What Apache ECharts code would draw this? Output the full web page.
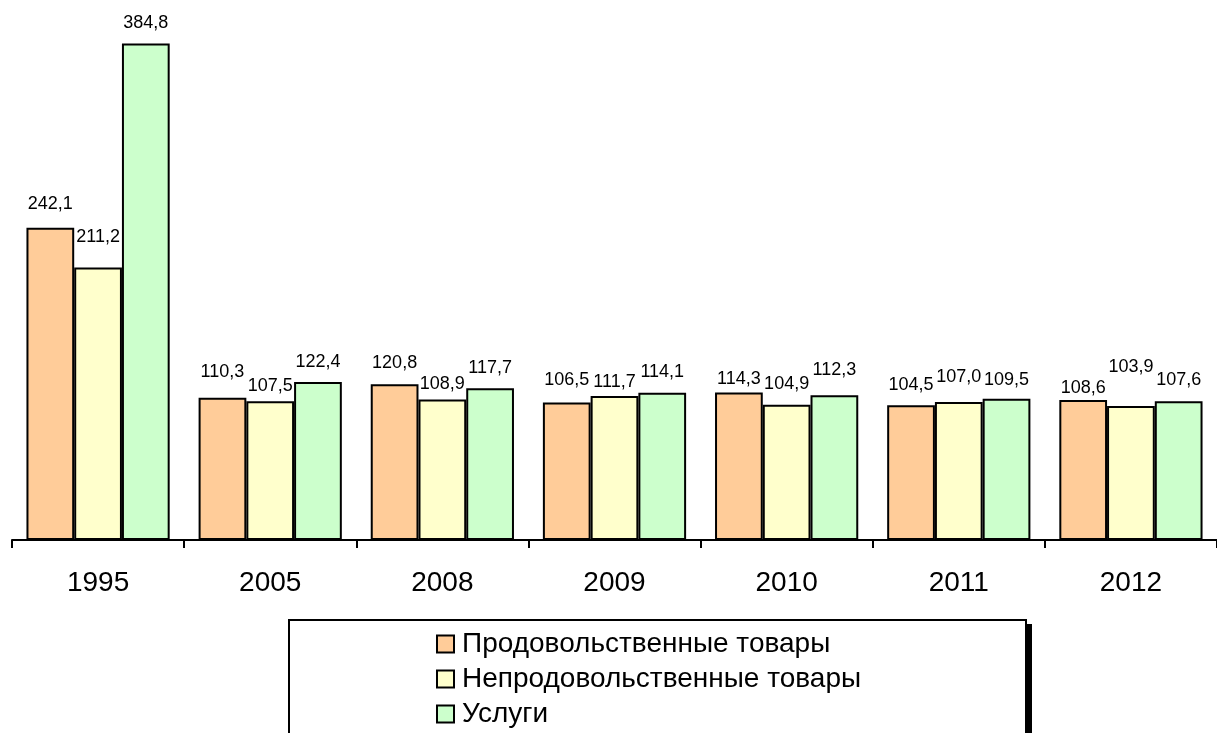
<!DOCTYPE html>
<html>
<head>
<meta charset="utf-8">
<title>Индексы потребительских цен</title>
<script src="https://cdn.jsdelivr.net/npm/echarts@6/dist/echarts.min.js"></script>
<style>
  html, body { margin: 0; padding: 0; background: #ffffff; }
  #chart { width: 1217px; height: 733px; }
</style>
</head>
<body>
<div id="chart"></div>
<script>
// Years on the category axis
const years = ['1995', '2005', '2008', '2009', '2010', '2011', '2012'];

// Series names
const seriesNames = ['Продовольственные товары', 'Непродовольственные товары', 'Услуги'];

// Index values, percent
const foodValues = [242.1, 110.3, 120.8, 106.5, 114.3, 104.5, 108.6];
const nonFoodValues = [211.2, 107.5, 108.9, 111.7, 104.9, 107.0, 103.9];
const serviceValues = [384.8, 122.4, 117.7, 114.1, 112.3, 109.5, 107.6];

// Vertical lift of each value label above its bar (pixels, label centre to bar top)
const foodLabelLift = [24, 26, 21, 23, 14, 20, 12];
const nonFoodLabelLift = [31, 15, 15, 14, 21, 25, 39];
const serviceLabelLift = [21, 20, 20, 21, 25, 19, 21];

const FONT = 'Arial, "Liberation Sans", sans-serif';
const colors = ['#FFCC99', '#FFFFCC', '#CCFFCC'];
const LABEL_SIZE = 18;

function fmt(v) {
  return v.toFixed(1).replace('.', ',');
}

function buildSeries(name, values, lifts, color) {
  return {
    name: name,
    type: 'bar',
    barGap: '0%',
    barCategoryGap: '16.8%',
    itemStyle: { color: color, borderColor: '#000', borderWidth: 2 },
    data: values.map(function (v, i) {
      return {
        value: v,
        label: { distance: Math.max(0, lifts[i] - LABEL_SIZE / 2) }
      };
    }),
    label: {
      show: true,
      position: 'top',
      color: '#000',
      fontFamily: FONT,
      fontSize: LABEL_SIZE,
      lineHeight: LABEL_SIZE,
      formatter: function (p) { return fmt(p.value); }
    },
    emphasis: { disabled: true },
    animation: false
  };
}

const chart = echarts.init(document.getElementById('chart'), null, { renderer: 'canvas' });

chart.setOption({
  backgroundColor: '#ffffff',
  animation: false,
  color: colors,
  grid: { left: 12, right: -6, top: 24, bottom: 193, containLabel: false },
  xAxis: {
    type: 'category',
    data: years,
    boundaryGap: true,
    axisLine: { show: true, lineStyle: { color: '#000', width: 2 } },
    axisTick: { show: true, length: 8, lineStyle: { color: '#000', width: 2 } },
    axisLabel: { color: '#000', fontFamily: FONT, fontSize: 28, margin: 29 }
  },
  yAxis: {
    type: 'value',
    min: 0,
    max: 400,
    show: false,
    splitLine: { show: false }
  },
  legend: {
    orient: 'vertical',
    left: 436,
    top: 630,
    padding: 0,
    itemGap: 7,
    itemWidth: 17,
    itemHeight: 17,
    icon: 'rect',
    z: 10,
    itemStyle: { borderColor: '#000', borderWidth: 2 },
    textStyle: { color: '#000', fontFamily: FONT, fontSize: 28, lineHeight: 28, padding: [0, 0, 0, 3] },
    data: seriesNames
  },
  graphic: [
    {
      // drop shadow of the legend frame
      type: 'rect',
      z: 1,
      shape: { x: 295, y: 624, width: 737, height: 140 },
      style: { fill: '#000' },
      silent: true
    },
    {
      // legend frame
      type: 'rect',
      z: 2,
      shape: { x: 289, y: 620, width: 737, height: 140 },
      style: { fill: '#ffffff', stroke: '#000', lineWidth: 2 },
      silent: true
    }
  ],
  series: [
    buildSeries(seriesNames[0], foodValues, foodLabelLift, colors[0]),
    buildSeries(seriesNames[1], nonFoodValues, nonFoodLabelLift, colors[1]),
    buildSeries(seriesNames[2], serviceValues, serviceLabelLift, colors[2])
  ]
});
</script>
</body>
</html>
